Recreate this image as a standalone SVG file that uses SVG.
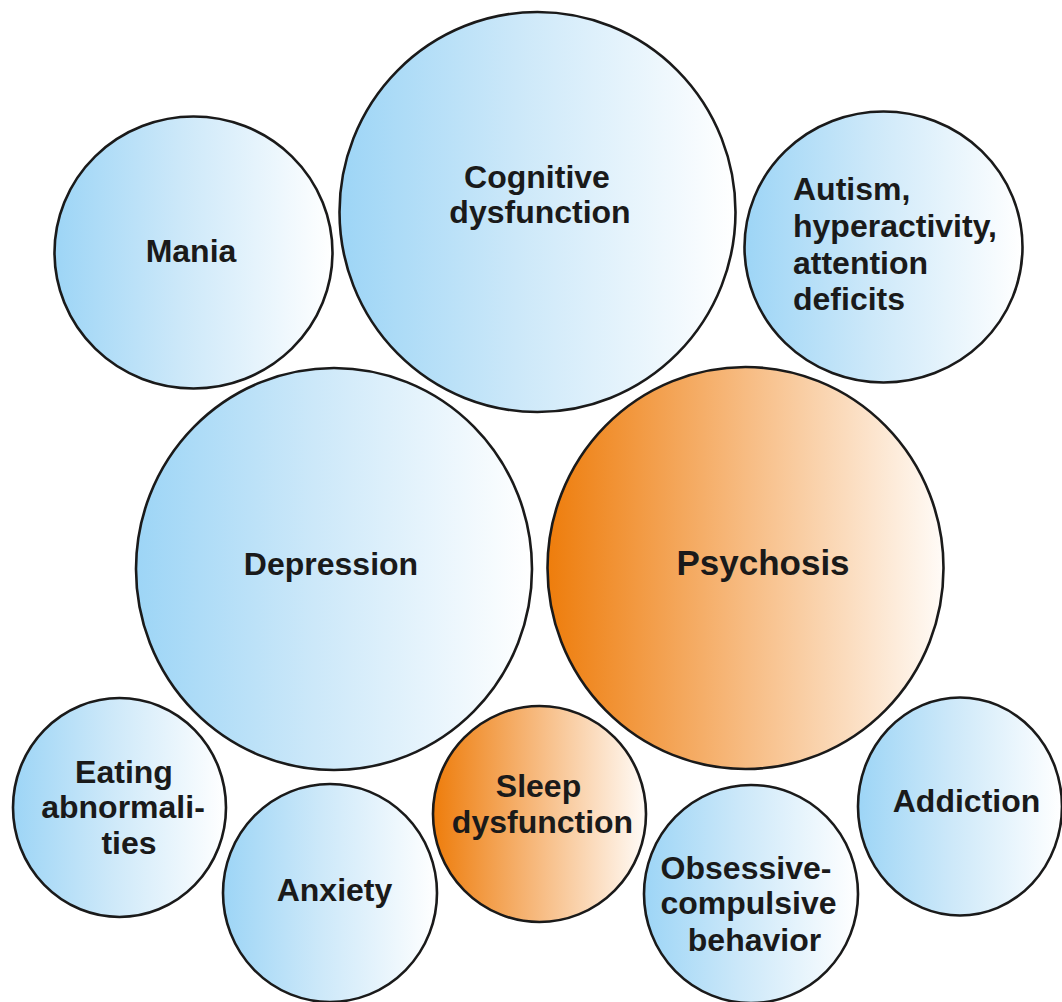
<svg xmlns="http://www.w3.org/2000/svg" width="1062" height="1002" viewBox="0 0 1062 1002">
  <defs>
    <linearGradient id="blueFill" x1="0" y1="0" x2="1" y2="0">
      <stop offset="0" stop-color="#9dd5f6"/>
      <stop offset="0.45" stop-color="#cce8f9"/>
      <stop offset="1" stop-color="#ffffff"/>
    </linearGradient>
    <linearGradient id="orangeFill" x1="0" y1="0" x2="1" y2="0">
      <stop offset="0" stop-color="#ee7d0c"/>
      <stop offset="0.45" stop-color="#f6b576"/>
      <stop offset="1" stop-color="#fffbf7"/>
    </linearGradient>
    <style>
      .bubble { stroke: #1a1a1a; stroke-width: 2.6; }
      .blue { fill: url(#blueFill); }
      .orange { fill: url(#orangeFill); }
      .label { font-family: "Liberation Sans", Arial, Helvetica, sans-serif; font-weight: bold; font-size: 32px; fill: #1a1a1a; text-anchor: middle; }
      .left { text-anchor: start; }
    </style>
  </defs>

  <rect x="0" y="0" width="1062" height="1002" fill="#ffffff"/>

  <g id="connectors"></g>

  <g id="mania">
    <ellipse class="bubble blue" cx="193.5" cy="252.5" rx="139" ry="136"/>
    <text class="label" x="191" y="262">Mania</text>
  </g>

  <g id="cognitive-dysfunction">
    <ellipse class="bubble blue" cx="537.5" cy="212" rx="198" ry="200"/>
    <text class="label" x="537" y="188">Cognitive</text>
    <text class="label" x="540" y="223">dysfunction</text>
  </g>

  <g id="autism">
    <ellipse class="bubble blue" cx="883.5" cy="247" rx="139" ry="135.5"/>
    <text class="label left" x="793" y="200">Autism,</text>
    <text class="label left" x="793" y="237">hyperactivity,</text>
    <text class="label left" x="793" y="274">attention</text>
    <text class="label left" x="793" y="310">deficits</text>
  </g>

  <g id="depression">
    <ellipse class="bubble blue" cx="334" cy="569" rx="198" ry="201"/>
    <text class="label" x="331" y="575">Depression</text>
  </g>

  <g id="psychosis">
    <ellipse class="bubble orange" cx="745.5" cy="568" rx="198" ry="201"/>
    <text class="label" x="763" y="575" style="font-size:35px">Psychosis</text>
  </g>

  <g id="eating-abnormalities">
    <ellipse class="bubble blue" cx="119.5" cy="807.5" rx="106.5" ry="109.5"/>
    <text class="label" x="124" y="783">Eating</text>
    <text class="label" x="123" y="818">abnormali-</text>
    <text class="label" x="129" y="854">ties</text>
  </g>

  <g id="anxiety">
    <ellipse class="bubble blue" cx="330" cy="893" rx="107" ry="109"/>
    <text class="label" x="334.5" y="901">Anxiety</text>
  </g>

  <g id="sleep-dysfunction">
    <ellipse class="bubble orange" cx="539.5" cy="814" rx="106.5" ry="108"/>
    <text class="label" x="538.5" y="797">Sleep</text>
    <text class="label" x="542.5" y="833">dysfunction</text>
  </g>

  <g id="obsessive-compulsive">
    <ellipse class="bubble blue" cx="751" cy="894" rx="107" ry="109"/>
    <text class="label" x="746" y="879">Obsessive-</text>
    <text class="label" x="748.5" y="914">compulsive</text>
    <text class="label" x="754.5" y="951">behavior</text>
  </g>

  <g id="addiction">
    <ellipse class="bubble blue" cx="960" cy="806.5" rx="102" ry="109"/>
    <text class="label" x="966.5" y="812">Addiction</text>
  </g>
</svg>
